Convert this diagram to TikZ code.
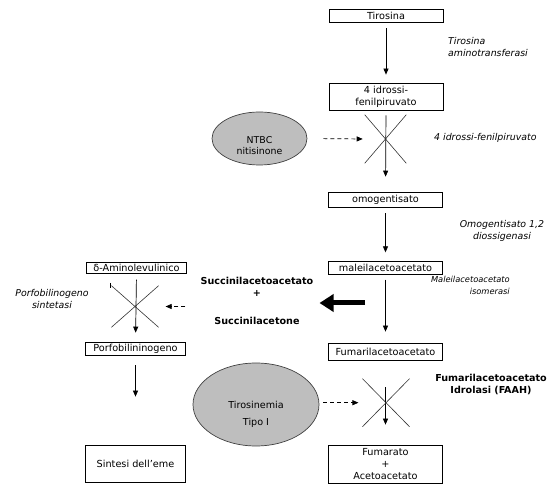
\documentclass[tikz,border=0pt]{standalone}
\usepackage{fontspec}
\setmainfont{DejaVu Sans}
\usetikzlibrary{arrows.meta,shapes.geometric,shapes.misc}
\definecolor{ellgray}{RGB}{190,190,190}
\begin{document}
\begin{tikzpicture}[x=1pt, y=-1pt,
        font=\fontsize{9.7}{12}\selectfont,
        box/.style={draw, line width=0.7pt, minimum width=114pt, inner sep=0pt, align=center},
        lbox/.style={box, minimum width=100pt},
        ell/.style={ellipse, draw=black!75, line width=0.7pt, fill=ellgray, inner sep=0pt},
        block/.style={cross out, draw=black!80, line width=0.6pt, inner sep=0pt},
        enz/.style={font=\fontsize{9.4}{12}\selectfont\itshape, inner sep=0pt},
        inh/.style={font=\fontsize{9.6}{12}\selectfont\bfseries, inner sep=0pt, align=center},
        arrow/.style={-{Triangle[length=6pt, width=5pt]}, line width=0.7pt},
        dasharrow/.style={arrow, dash pattern=on 4pt off 3pt}
    ]
    \useasboundingbox (0,0) rectangle (560,494);

    % Tyrosine catabolism
    \node[box, minimum height=13pt] (tir) at (386,15.5) {Tirosina};
    \node[box, minimum height=27pt] (idr) at (386,96.5) {4 idrossi-\\fenilpiruvato};
    \node[box, minimum height=15pt] (omo) at (385.5,199.5) {omogentisato};
    \node[box, minimum height=12.6pt] (mal) at (385.5,268) {maleilacetoacetato};
    \node[box, minimum height=17pt] (fum) at (385.5,351.5) {Fumarilacetoacetato};
    \node[box, minimum height=38pt] (fa) at (385.5,464) {Fumarato\\+\\Acetoacetato};
    \draw[arrow, shorten <=6pt, shorten >=8pt] (tir.south) -- (idr.north);
    \draw[arrow, shorten <=5pt, shorten >=15pt] (idr.south) -- (omo.north);
    \draw[arrow, shorten <=6pt, shorten >=9pt] (omo.south) -- (mal.north);
    \draw[arrow, shorten <=5pt, shorten >=11pt] (mal.south) -- (fum.north);
    \draw[arrow, shorten <=27pt, shorten >=20pt] (fum.south) -- (fa.north);

    % Enzymes
    \node[enz, anchor=west, align=left] (tat) at (448,46.5) {Tirosina\\aminotransferasi};
    \node[enz, anchor=west] (hppd) at (434,138) {4 idrossi-fenilpiruvato};
    \node[enz, align=center] (hgd) at (502,231) {Omogentisato 1,2\\diossigenasi};
    \node[enz, font=\fontsize{8.3}{12}\selectfont\itshape, anchor=east, align=right] (mai) at (510,285.5) {Maleilacetoacetato\\isomerasi};
    \node[inh] (faah) at (491,384) {Fumarilacetoacetato\\Idrolasi (FAAH)};

    % Blocks
    \node[block, minimum width=41pt, minimum height=48pt] (blk1) at (385.5,139) {};
    \node[block, minimum width=46.5pt, minimum height=47.5pt] (blk3) at (386,402.7) {};
    \node[block, minimum width=46.6pt, minimum height=41pt] (blk2) at (135,306.5) {};
    \draw[line width=0.6pt] (110.7,283) -- (110.7,288);

    % NTBC and Tirosinemia
    \node[ell, minimum width=95pt, minimum height=53pt] (ntbc) at (259.5,138.5) {};
    \node[align=center, inner sep=0pt, font=\fontsize{9.4}{11}\selectfont] (ntbct) at (259.5,145.5) {NTBC\\nitisinone};
    \node[ell, minimum width=126pt, minimum height=83pt] (tiro) at (256,404.5) {};
    \node[align=center, inner sep=0pt, font=\fontsize{9.6}{17}\selectfont] (tirot) at (256,414.5) {Tirosinemia\\Tipo I};
    \draw[dasharrow, shorten <=16pt, shorten >=2pt] (ntbc.east) -- (blk1.west);
    \draw[dasharrow, shorten <=4pt, shorten >=4pt] (tiro.east |- blk3) -- (blk3.west);

    % Heme synthesis
    \node[lbox, minimum height=10.6pt] (ala) at (136.5,268) {δ-Aminolevulinico};
    \node[lbox, minimum height=13pt] (pbg) at (135.5,348.5) {Porfobilininogeno};
    \node[lbox, minimum height=37pt] (eme) at (135.5,463.5) {Sintesi dell’eme};
    \draw[arrow, shorten <=6pt, shorten >=9pt] (ala.south) -- (pbg.north);
    \draw[arrow, shorten <=10pt, shorten >=48pt] (pbg.south) -- (eme.north);
    \node[enz, align=center] (pbgs) at (52,299) {Porfobilinogeno\\sintetasi};

    % Succinilacetone
    \node[inh] (succ) at (257,301) {Succinilacetoacetato\\+\\[16pt]Succinilacetone};
    \coordinate (thk) at (365,303);
    \draw[-{Triangle[length=14pt, width=17pt]}, line width=5pt, shorten >=6pt] (thk) -- (thk -| succ.east);
    \draw[dasharrow, shorten <=15pt, shorten >=7pt] (succ.west |- blk2) -- (blk2.east);
\end{tikzpicture}
\end{document}
